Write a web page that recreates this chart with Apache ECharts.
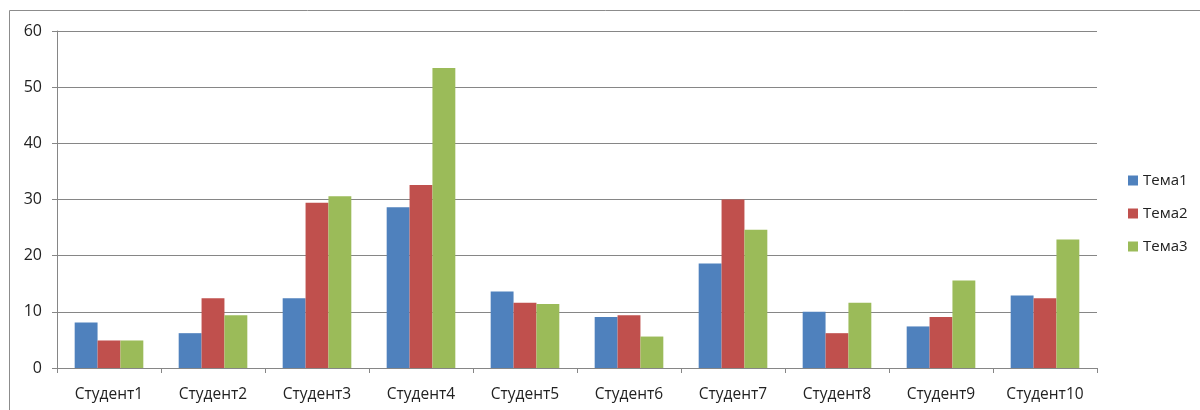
<!DOCTYPE html>
<html>
<head>
<meta charset="utf-8">
<script src="https://cdn.jsdelivr.net/npm/echarts@6/dist/echarts.min.js"></script>
<style>
html,body{margin:0;padding:0;background:#fff;}
#c{width:1200px;height:410px;}
</style>
</head>
<body>
<div id="c"></div>
<script>
const categories = ['Студент1','Студент2','Студент3','Студент4','Студент5','Студент6','Студент7','Студент8','Студент9','Студент10'];
const seriesNames = ['Тема1','Тема2','Тема3'];
const tema1 = [8.1, 6.2, 12.4, 28.6, 13.6, 9.1, 18.6, 10.0, 7.4, 12.9];
const tema2 = [4.9, 12.4, 29.4, 32.6, 11.6, 9.4, 30.0, 6.2, 9.1, 12.4];
const tema3 = [4.9, 9.4, 30.6, 53.4, 11.4, 5.6, 24.6, 11.6, 15.6, 22.9];
const yTicks = [0, 10, 20, 30, 40, 50, 60];

const colors = ['#4F81BD', '#C0504D', '#9BBB59'];
const font = 'Open Sans';
const chart = echarts.init(document.getElementById('c'));
chart.setOption({
  animation: false,
  color: colors,
  graphic: [{
    type: 'rect',
    shape: { x: 9.5, y: 10.5, width: 1200, height: 420 },
    style: { fill: 'none', stroke: '#8c8c8c', lineWidth: 1 },
    silent: true
  }],
  grid: { left: 57, right: 103, top: 31, bottom: 42, containLabel: false },
  legend: {
    orient: 'vertical',
    left: 1123,
    top: 168,
    itemWidth: 10,
    itemHeight: 10,
    itemGap: 18,
    icon: 'rect',
    textStyle: { fontFamily: font, fontSize: 15, color: '#222' },
    data: seriesNames
  },
  xAxis: {
    type: 'category',
    data: categories,
    axisLine: { lineStyle: { color: '#868686', width: 1 } },
    axisTick: { show: true, length: 5, lineStyle: { color: '#868686' } },
    axisLabel: { fontFamily: font, fontSize: 15.5, color: '#222', margin: 19 }
  },
  yAxis: {
    type: 'value',
    min: yTicks[0],
    max: yTicks[yTicks.length - 1],
    interval: 10,
    axisLine: { show: true, lineStyle: { color: '#868686', width: 1 } },
    axisTick: { show: true, length: 5, lineStyle: { color: '#868686' } },
    splitLine: { lineStyle: { color: '#868686', width: 1 } },
    axisLabel: { fontFamily: font, fontSize: 16, color: '#222', margin: 15 }
  },
  series: [
    { name: seriesNames[0], type: 'bar', data: tema1, barGap: '0%', barCategoryGap: '34%' },
    { name: seriesNames[1], type: 'bar', data: tema2, barGap: '0%', barCategoryGap: '34%' },
    { name: seriesNames[2], type: 'bar', data: tema3, barGap: '0%', barCategoryGap: '34%' }
  ]
});
</script>
</body>
</html>
